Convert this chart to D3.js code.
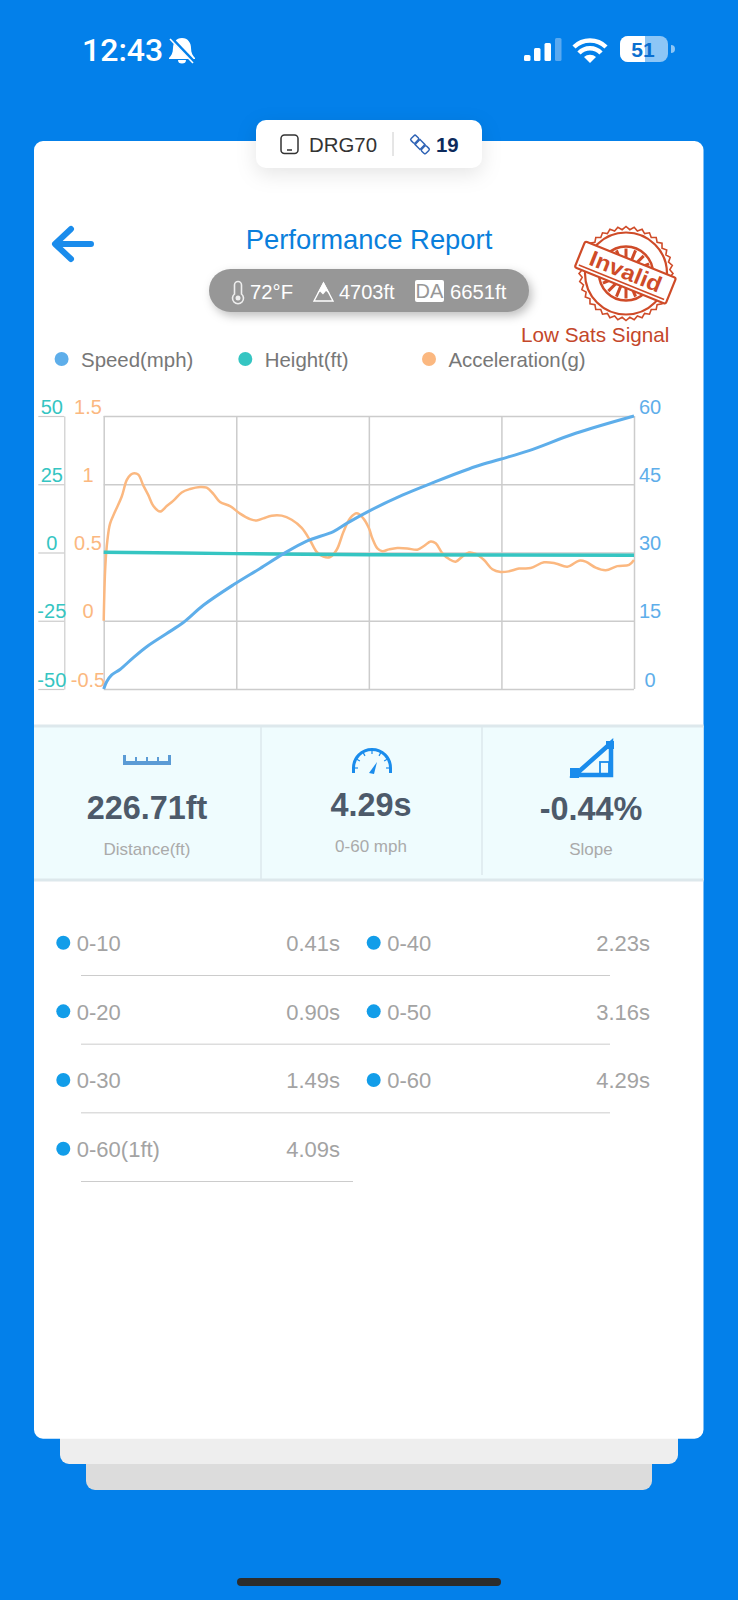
<!DOCTYPE html>
<html>
<head>
<meta charset="utf-8">
<script src="https://cdn.jsdelivr.net/npm/d3@7"></script>
<style>
  html, body { margin: 0; padding: 0; background: #0380ea; }
  svg { display: block; }
  text { font-family: "Liberation Sans", Arial, sans-serif; }
</style>
</head>
<body>
<div id="chart"></div>
<script>
// values
const speedTime = [0, 0.024, 0.065, 0.132, 0.24, 0.348, 0.51, 0.644, 0.806, 1.049, 1.265, 1.453, 1.642, 1.858, 1.966, 2.146, 2.416, 2.659, 3.009, 3.209, 3.441, 3.818, 4.29]
const speedValues = [0, 1.6, 3.1, 4.3, 6.9, 9.3, 12.2, 14.6, 18.4, 22.9, 26.5, 29.7, 32.5, 34.6, 36.4, 39.1, 42.6, 45.3, 48.9, 50.5, 52.4, 56.2, 60]

const heightTime = [0, 1.05, 2.15, 4.29]
const heightValues = [0.1, -0.4, -0.8, -1.0]

const accelTime = [0, 0.013, 0.03, 0.051, 0.092, 0.146, 0.186, 0.218, 0.248, 0.28, 0.321, 0.361, 0.402, 0.456, 0.51, 0.564, 0.631, 0.698, 0.779, 0.833, 0.887, 0.941, 1.022, 1.103, 1.184, 1.238, 1.292, 1.359, 1.44, 1.521, 1.602, 1.669, 1.723, 1.777, 1.831, 1.885, 1.939, 1.993, 2.047, 2.1, 2.146, 2.173, 2.214, 2.254, 2.308, 2.375, 2.456, 2.537, 2.591, 2.645, 2.686, 2.74, 2.794, 2.847, 2.901, 2.955, 3.009, 3.077, 3.144, 3.211, 3.279, 3.36, 3.454, 3.562, 3.656, 3.751, 3.845, 3.899, 3.98, 4.061, 4.155, 4.25, 4.29]
const accelValues = [0, 0.396, 0.59, 0.71, 0.8, 0.91, 1.03, 1.07, 1.08, 1.07, 0.99, 0.92, 0.84, 0.8, 0.84, 0.88, 0.94, 0.965, 0.98, 0.975, 0.93, 0.87, 0.84, 0.785, 0.745, 0.735, 0.75, 0.77, 0.77, 0.74, 0.68, 0.59, 0.505, 0.47, 0.467, 0.52, 0.65, 0.75, 0.787, 0.75, 0.677, 0.604, 0.53, 0.51, 0.523, 0.533, 0.53, 0.52, 0.548, 0.58, 0.567, 0.494, 0.452, 0.433, 0.47, 0.5, 0.49, 0.445, 0.377, 0.357, 0.362, 0.382, 0.386, 0.428, 0.42, 0.396, 0.44, 0.433, 0.389, 0.37, 0.4, 0.41, 0.445]

const speedTicks = [0, 15, 30, 45, 60]
const heightTicks = [-50, -25, 0, 25, 50]
const accelTicks = [-0.5, 0, 0.5, 1, 1.5]

const legendNames = ['Speed(mph)', 'Height(ft)', 'Acceleration(g)']
const statValues = ['226.71ft', '4.29s', '-0.44%']
const statNames = ['Distance(ft)', '0-60 mph', 'Slope']
const splitNamesLeft = ['0-10', '0-20', '0-30', '0-60(1ft)']
const splitTimesLeft = ['0.41s', '0.90s', '1.49s', '4.09s']
const splitNamesRight = ['0-40', '0-50', '0-60']
const splitTimesRight = ['2.23s', '3.16s', '4.29s']

const BLUE = '#5eaeea', TEAL = '#35c5c2', ORANGE = '#fbb880', GRID = '#cccccc'
const ICON = '#1a8cec', STAMP = '#cf4b28'

const svg = d3.select('#chart').append('svg').attr('width', 738).attr('height', 1600)

svg.append('rect').attr('width', 738).attr('height', 1600).attr('fill', '#0380ea')

function label(parent, x, y, str, size, color, anchor, weight) {
  return parent.append('text').attr('x', x).attr('y', y).text(str)
    .attr('font-size', size).attr('fill', color)
    .attr('text-anchor', anchor || 'start').attr('font-weight', weight || 'normal')
}

// status bar
const status = svg.append('g')
label(status, 82, 61, '12:43', 32, '#fff', 'start', 500).style('font-family', 'Roboto')
status.append('path')
  .attr('d', 'M182 38c-6 0-9 5-9 10 0 5-2 8-4 10v1h26v-1c-2-2-4-5-4-10 0-5-3-10-9-10zM178 60a4 3.5 0 0 0 8 0z')
  .attr('fill', '#fff')
status.append('line').attr('x1', 171).attr('y1', 38).attr('x2', 194).attr('y2', 62).attr('stroke', '#0380ea').attr('stroke-width', 3.5)
status.append('line').attr('x1', 170).attr('y1', 39).attr('x2', 193).attr('y2', 63).attr('stroke', '#fff').attr('stroke-width', 1.6)
;[[524, 55, 6], [534, 48, 13], [544.5, 43, 18], [555, 38, 23]].forEach(function (b, i) {
  status.append('rect').attr('x', b[0]).attr('y', b[1]).attr('width', 6.5).attr('height', b[2]).attr('rx', 1.5)
    .attr('fill', i == 3 ? '#5aa9f0' : '#fff')
})
status.append('path')
  .attr('d', 'M574 47a23 23 0 0 1 32 0M579 53a15 15 0 0 1 22 0')
  .attr('fill', 'none').attr('stroke', '#fff').attr('stroke-width', 4.5)
status.append('path').attr('d', 'M584 57a9 9 0 0 1 12 0l-6 6z').attr('fill', '#fff')
status.append('rect').attr('x', 620).attr('y', 36).attr('width', 48).attr('height', 26).attr('rx', 8).attr('fill', '#fff').attr('opacity', 0.55)
status.append('path').attr('d', 'M628 36h17v26h-17a8 8 0 0 1-8-8v-10a8 8 0 0 1 8-8z').attr('fill', '#fff')
status.append('path').attr('d', 'M671 45a4 4 0 0 1 0 8z').attr('fill', '#fff').attr('opacity', 0.55)
label(status, 643, 57, '51', 21, '#0a6fd0', 'middle', 'bold')

// stacked sheets and card
svg.append('rect').attr('x', 86).attr('y', 1440).attr('width', 566).attr('height', 50).attr('rx', 9).attr('fill', '#dcdcdc')
svg.append('rect').attr('x', 60).attr('y', 1420).attr('width', 618).attr('height', 44).attr('rx', 9).attr('fill', '#eeeeee')
svg.append('rect').attr('x', 34).attr('y', 141).attr('width', 669.5).attr('height', 1297.7).attr('rx', 9).attr('fill', '#fff')
svg.append('rect').attr('x', 237).attr('y', 1578).attr('width', 264).attr('height', 8).attr('rx', 4).attr('fill', '#2c2c2c')

// device badge
const badge = svg.append('g')
badge.append('rect').attr('x', 256).attr('y', 120).attr('width', 226).attr('height', 48).attr('rx', 10).attr('fill', '#fff')
  .style('filter', 'drop-shadow(0px 6px 10px rgba(0,0,0,0.10))')
badge.append('rect').attr('x', 281).attr('y', 135).attr('width', 17).attr('height', 18.5).attr('rx', 3.5)
  .attr('fill', 'none').attr('stroke', '#333').attr('stroke-width', 1.5)
badge.append('line').attr('x1', 287).attr('x2', 292).attr('y1', 150).attr('y2', 150).attr('stroke', '#333').attr('stroke-width', 1.5)
label(badge, 309, 152, 'DRG70', 20.4, '#333')
badge.append('line').attr('x1', 393).attr('x2', 393).attr('y1', 132).attr('y2', 156).attr('stroke', '#ccc').attr('stroke-width', 1)
const sat = badge.append('g').attr('transform', 'translate(420,144.5) rotate(45)')
sat.append('rect').attr('x', -3.5).attr('y', -3.5).attr('width', 7).attr('height', 7).attr('fill', 'none').attr('stroke', '#2f63b5').attr('stroke-width', 1.5)
sat.append('rect').attr('x', -10.5).attr('y', -3.5).attr('width', 6).attr('height', 7).attr('rx', 1.5).attr('fill', 'none').attr('stroke', '#2f63b5').attr('stroke-width', 1.5)
sat.append('rect').attr('x', 4.5).attr('y', -3.5).attr('width', 6).attr('height', 7).attr('rx', 1.5).attr('fill', 'none').attr('stroke', '#2f63b5').attr('stroke-width', 1.5)
label(badge, 436, 151.5, '19', 20.4, '#0d2a5c', 'start', 'bold')

// header
svg.append('path').attr('d', 'M91 244H56M71 229L55 244L71 259')
  .attr('fill', 'none').attr('stroke', ICON).attr('stroke-width', 6).attr('stroke-linecap', 'round').attr('stroke-linejoin', 'round')
label(svg, 369, 249, 'Performance Report', 27.4, '#0a7fdc', 'middle')

// conditions pill
const pill = svg.append('g')
pill.append('rect').attr('x', 209).attr('y', 269).attr('width', 320).attr('height', 43).attr('rx', 21.5).attr('fill', '#979797')
  .style('filter', 'drop-shadow(3px 4px 5px rgba(0,0,0,0.25))')
pill.append('path').attr('d', 'M234.5 285a3.5 3.5 0 0 1 7 0v9a5.5 5.5 0 1 1-7 0z')
  .attr('fill', 'none').attr('stroke', '#eee').attr('stroke-width', 1.6)
pill.append('circle').attr('cx', 238).attr('cy', 298).attr('r', 2.5).attr('fill', '#eee')
label(pill, 250, 299, '72°F', 20.3, '#fff')
pill.append('path').attr('d', 'M314 301L323.5 283L333 301z').attr('fill', 'none').attr('stroke', '#fff').attr('stroke-width', 1.4)
pill.append('path').attr('d', 'M317 294L323.5 282L330 294L326 291L323 294.5L320 291.5z').attr('fill', '#fff')
label(pill, 339, 299, '4703ft', 20, '#fff')
pill.append('rect').attr('x', 415).attr('y', 280).attr('width', 29).attr('height', 22).attr('rx', 2).attr('fill', '#fff')
label(pill, 429.5, 298, 'DA', 20, '#979797', 'middle')
label(pill, 450, 299, '6651ft', 20.3, '#fff')

// invalid stamp
const stamp = svg.append('g').attr('transform', 'translate(626,273.5)')
const burst = d3.range(72).map(function (i) {
  const r = i % 2 ? 44 : 47
  const a = i / 72 * 2 * Math.PI
  return [r * Math.cos(a), r * Math.sin(a)]
})
stamp.append('path').attr('d', d3.line().curve(d3.curveLinearClosed)(burst)).attr('fill', 'none').attr('stroke', STAMP).attr('stroke-width', 1.6)
stamp.append('circle').attr('r', 41).attr('fill', 'none').attr('stroke', STAMP).attr('stroke-width', 2.2)
stamp.append('circle').attr('r', 27).attr('fill', 'none').attr('stroke', STAMP).attr('stroke-width', 2.5)
d3.range(16).forEach(function (i) {
  stamp.append('line').attr('x1', 0).attr('x2', 0).attr('y1', 14).attr('y2', 25)
    .attr('transform', 'rotate(' + (i * 22.5) + ')')
    .attr('stroke', STAMP).attr('stroke-width', 3)
})
const band = stamp.append('g').attr('transform', 'translate(-1,0) rotate(22)')
band.append('rect').attr('x', -49).attr('y', -15).attr('width', 98).attr('height', 28).attr('rx', 2)
  .attr('fill', '#fff').attr('stroke', STAMP).attr('stroke-width', 2.2)
band.append('line').attr('x1', -46).attr('x2', 46).attr('y1', 9.5).attr('y2', 9.5).attr('stroke', STAMP).attr('stroke-width', 1.6)
label(band, 0, 5.5, 'Invalid', 22, STAMP, 'middle', 'bold').attr('textLength', 76).attr('lengthAdjust', 'spacingAndGlyphs')
label(svg, 521, 342, 'Low Sats Signal', 20.7, '#c4472a')

// legend
const legendX = d3.scalePoint().domain(legendNames).range([61.6, 429])
const legendColor = d3.scaleOrdinal().domain(legendNames).range([BLUE, TEAL, ORANGE])
legendNames.forEach(function (d) {
  svg.append('circle').attr('cx', legendX(d)).attr('cy', 359).attr('r', 7).attr('fill', legendColor(d))
  label(svg, legendX(d) + 19.5, 367, d, 20.4, '#777')
})

// chart
const x = d3.scaleLinear().domain([0, 4.29]).range([103.7, 634])
const ySpeed = d3.scaleLinear().domain([0, 60]).range([689, 416])
const yHeight = d3.scaleLinear().domain([-50, 50]).range([689, 416])
const yAccel = d3.scaleLinear().domain([-0.5, 1.5]).range([689, 416])

const grid = svg.append('g')
grid.append('g').attr('transform', 'translate(103.7,0)')
  .call(d3.axisRight(ySpeed).tickValues(speedTicks).tickSize(530.3).tickFormat(''))
  .call(function (g) { g.select('.domain').remove() })
grid.append('g').attr('transform', 'translate(0,689)')
  .call(d3.axisTop(x).tickValues(d3.range(5).map(function (i) { return i * 4.29 / 4 })).tickSize(273).tickFormat(''))
  .call(function (g) { g.select('.domain').remove() })
grid.selectAll('line').attr('stroke', GRID).attr('stroke-width', 1.5)

svg.append('g').attr('transform', 'translate(64.3,0)')
  .call(d3.axisLeft(yHeight).tickValues(heightTicks).tickSize(26).tickSizeOuter(0).tickFormat(function (d) { return d }))
  .call(function (g) {
    g.select('.domain').attr('stroke', GRID).attr('stroke-width', 1.2)
    g.selectAll('.tick line').attr('stroke', GRID).attr('stroke-width', 1.2)
    g.selectAll('text').attr('x', -12.5).attr('dy', -3).attr('y', 0).attr('text-anchor', 'middle')
      .attr('fill', TEAL).attr('font-size', 20).style('font-family', '"Liberation Sans"')
  })

svg.append('g').attr('transform', 'translate(88,0)')
  .call(d3.axisLeft(yAccel).tickValues(accelTicks).tickSize(0).tickFormat(function (d) { return d }))
  .call(function (g) {
    g.select('.domain').remove()
    g.selectAll('text').attr('x', 0).attr('dy', -3).attr('y', 0).attr('text-anchor', 'middle')
      .attr('fill', ORANGE).attr('font-size', 20).style('font-family', '"Liberation Sans"')
  })

svg.append('g').attr('transform', 'translate(650,0)')
  .call(d3.axisRight(ySpeed).tickValues(speedTicks).tickSize(0).tickFormat(function (d) { return d }))
  .call(function (g) {
    g.select('.domain').remove()
    g.selectAll('text').attr('x', 0).attr('dy', -3).attr('y', 0).attr('text-anchor', 'middle')
      .attr('fill', BLUE).attr('font-size', 20).style('font-family', '"Liberation Sans"')
  })

function drawLine(times, values, scale, color, width) {
  const line = d3.line().curve(d3.curveCatmullRom.alpha(0.5))
    .x(function (d, i) { return x(times[i]) })
    .y(function (d) { return scale(d) })
  svg.append('path').datum(values).attr('d', line)
    .attr('fill', 'none').attr('stroke', color).attr('stroke-width', width)
}
drawLine(accelTime, accelValues, yAccel, ORANGE, 2.5)
drawLine(heightTime, heightValues, yHeight, TEAL, 3.4)
drawLine(speedTime, speedValues, ySpeed, BLUE, 3)

// stats panel
const panel = svg.append('g')
panel.append('rect').attr('x', 34).attr('y', 726).attr('width', 669.5).attr('height', 154).attr('fill', '#effcfe')
panel.append('line').attr('x1', 34).attr('x2', 703.5).attr('y1', 726).attr('y2', 726).attr('stroke', '#dde8ec').attr('stroke-width', 3)
panel.append('line').attr('x1', 34).attr('x2', 703.5).attr('y1', 880).attr('y2', 880).attr('stroke', '#dde8ec').attr('stroke-width', 3)
panel.append('line').attr('x1', 261).attr('x2', 261).attr('y1', 727).attr('y2', 879).attr('stroke', '#dde8ec').attr('stroke-width', 1.5)
panel.append('line').attr('x1', 482).attr('x2', 482).attr('y1', 727).attr('y2', 875).attr('stroke', '#dde8ec').attr('stroke-width', 1.5)

const statCenter = [147, 371, 591]
const statBase = [819, 816, 820]
const statLabelBase = [855, 852, 855]
statValues.forEach(function (d, i) {
  label(panel, statCenter[i], statBase[i], d, 32.4, '#4d5a6a', 'middle', 'bold')
  label(panel, statCenter[i], statLabelBase[i], statNames[i], 17, '#aaaaaa', 'middle')
})

// ruler icon
panel.append('path').attr('d', 'M123 755h3v6h9v-4h2v4h9v-4h2v4h9v-4h2v4h9v-6h3v10h-48z').attr('fill', '#5b9bd5')
// gauge icon
panel.append('path').attr('d', 'M353.5 773v-5a18.5 18.5 0 0 1 37 0v5')
  .attr('fill', 'none').attr('stroke', ICON).attr('stroke-width', 3)
panel.append('path').attr('d', 'M369 773l8-11-3 12z').attr('fill', ICON)
d3.range(7).forEach(function (i) {
  panel.append('line').attr('x1', 0).attr('x2', 0).attr('y1', -18).attr('y2', -14)
    .attr('transform', 'translate(372,768) rotate(' + (-90 + i * 30) + ')')
    .attr('stroke', ICON).attr('stroke-width', 1.2)
})
// slope icon
panel.append('path').attr('d', 'M575 775L611 743V775z').attr('fill', 'none').attr('stroke', ICON).attr('stroke-width', 4.5)
panel.append('rect').attr('x', 570).attr('y', 768).attr('width', 9).attr('height', 10).attr('fill', ICON)
panel.append('rect').attr('x', 606).attr('y', 741).attr('width', 8).attr('height', 8).attr('fill', ICON)
panel.append('rect').attr('x', 600).attr('y', 762).attr('width', 9).attr('height', 12).attr('fill', 'none').attr('stroke', ICON).attr('stroke-width', 1.8)

// split times
const rowDot = d3.scaleLinear().domain([0, 3]).range([942.7, 1148.7])
const rowLine = d3.scaleLinear().domain([0, 3]).range([975.5, 1181.5])

function splitColumn(names, times, dotX, valueEnd) {
  names.forEach(function (d, i) {
    svg.append('circle').attr('cx', dotX).attr('cy', rowDot(i)).attr('r', 7).attr('fill', '#129de9')
    label(svg, dotX + 13.5, rowDot(i) + 8.3, d, 22, '#a3a3a3')
    label(svg, valueEnd, rowDot(i) + 8.3, times[i], 22, '#a3a3a3', 'end')
  })
}
splitColumn(splitNamesLeft, splitTimesLeft, 63.3, 340)
splitColumn(splitNamesRight, splitTimesRight, 373.7, 650)

splitNamesLeft.forEach(function (d, i) {
  svg.append('line').attr('x1', 81).attr('x2', i < 3 ? 610 : 353)
    .attr('y1', rowLine(i)).attr('y2', rowLine(i)).attr('stroke', '#cccccc').attr('stroke-width', 1)
})
</script>
</body>
</html>
